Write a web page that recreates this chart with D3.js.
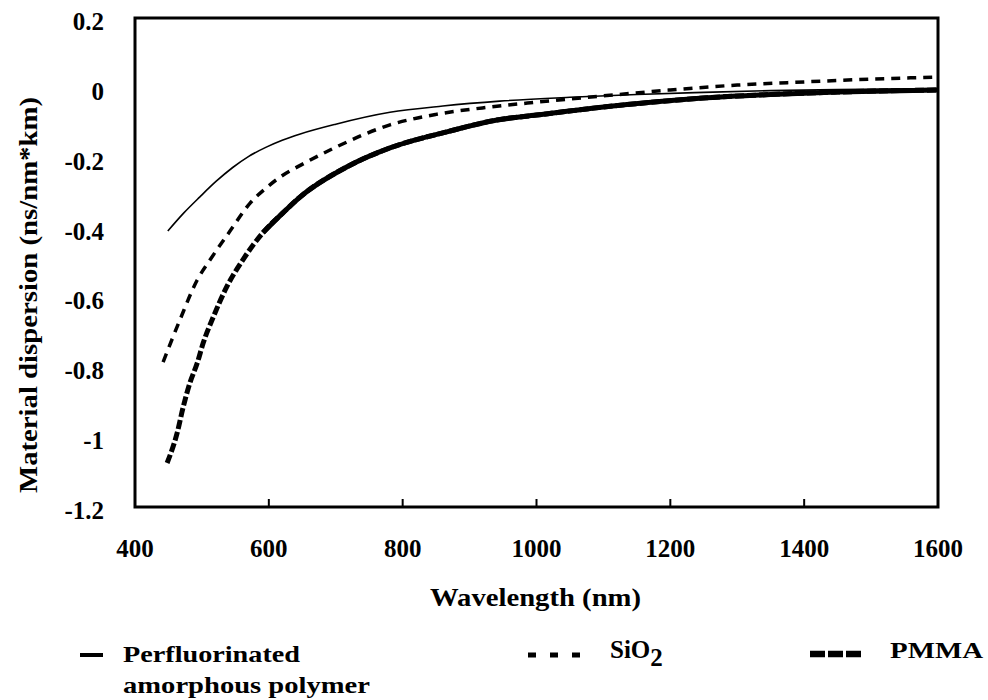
<!DOCTYPE html>
<html>
<head>
<meta charset="utf-8">
<script src="https://cdn.jsdelivr.net/npm/d3@7"></script>
<style>
  body { margin: 0; background: #fff; }
</style>
</head>
<body>
<div id="chart"></div>
<script>
// wavelength (nm) / material dispersion (ns/nm*km)
const perfluoroWl = [449, 473, 497, 521, 546, 570, 597, 620, 647, 700, 781, 860, 945, 1050, 1150, 1250, 1350, 1450, 1600];
const perfluoroD  = [-0.41, -0.358, -0.312, -0.268, -0.228, -0.196, -0.169, -0.15, -0.132, -0.104, -0.07, -0.052, -0.038, -0.027, -0.019, -0.013, -0.008, -0.005, -0.002];

const sio2Wl = [442, 467, 493, 512, 542, 572, 597, 621, 647, 700, 781, 850, 930, 1000, 1100, 1200, 1300, 1400, 1500, 1600];
const sio2D  = [-0.785, -0.665, -0.55, -0.493, -0.41, -0.33, -0.285, -0.25, -0.222, -0.17, -0.106, -0.076, -0.055, -0.041, -0.023, -0.006, 0.008, 0.017, 0.025, 0.031];

const pmmaWl = [448, 463, 472, 482, 493, 502, 517, 537, 561, 591, 621, 647, 717, 781, 866, 941, 1000, 1100, 1244, 1350, 1450, 1600];
const pmmaD  = [-1.074, -0.988, -0.914, -0.845, -0.788, -0.73, -0.656, -0.57, -0.493, -0.415, -0.358, -0.312, -0.226, -0.172, -0.126, -0.092, -0.078, -0.055, -0.03, -0.019, -0.012, -0.006];

const xTicks = [400, 600, 800, 1000, 1200, 1400, 1600];
const yTicks = [0.2, 0, -0.2, -0.4, -0.6, -0.8, -1, -1.2];

const width = 988, height = 700;
const plotL = 135, plotR = 938, plotT = 18, plotB = 507;

const svg = d3.select('#chart').append('svg')
    .attr('width', width)
    .attr('height', height)
    .attr('font-family', '"Liberation Serif", "Times New Roman", "DejaVu Serif", serif')
    .attr('font-weight', 'bold');

const x = d3.scaleLinear().domain([400, 1600]).range([plotL, plotR]);
const y = d3.scaleLinear().domain([-1.2, 0.2]).range([plotB, plotT]);

const zip = (a, b) => a.map((v, i) => [v, b[i]]);
const line = d3.line().x(d => x(d[0])).y(d => y(d[1])).curve(d3.curveMonotoneX);

// curves
svg.append('path')
    .datum(zip(perfluoroWl, perfluoroD))
    .attr('d', line)
    .attr('fill', 'none')
    .attr('stroke', '#000')
    .attr('stroke-width', 1.6);

svg.append('path')
    .datum(zip(sio2Wl, sio2D))
    .attr('d', line)
    .attr('fill', 'none')
    .attr('stroke', '#000')
    .attr('stroke-width', 3.5)
    .attr('stroke-dasharray', '9,7');

const pmma = zip(pmmaWl, pmmaD);
svg.append('path')
    .datum(pmma)
    .attr('d', line)
    .attr('fill', 'none')
    .attr('stroke', '#000')
    .attr('stroke-width', 5)
    .attr('stroke-dasharray', '9,3');
// flat part of PMMA looks solid in the picture
svg.append('path')
    .datum(pmma.filter(d => d[0] >= 591))
    .attr('d', line)
    .attr('fill', 'none')
    .attr('stroke', '#000')
    .attr('stroke-width', 5);

// frame
svg.append('rect')
    .attr('x', plotL).attr('y', plotT)
    .attr('width', plotR - plotL).attr('height', plotB - plotT)
    .attr('fill', 'none')
    .attr('stroke', '#000')
    .attr('stroke-width', 3);

// x ticks (inside, pointing up)
svg.selectAll('.xtick').data(xTicks.slice(1, -1)).enter().append('line')
    .attr('class', 'xtick')
    .attr('x1', d => x(d)).attr('x2', d => x(d))
    .attr('y1', plotB).attr('y2', plotB - 8)
    .attr('stroke', '#000')
    .attr('stroke-width', 2);

svg.selectAll('.xlabel').data(xTicks).enter().append('text')
    .attr('class', 'xlabel')
    .attr('x', d => x(d))
    .attr('y', 557)
    .attr('text-anchor', 'middle')
    .attr('font-size', 25)
    .text(d => d);

svg.selectAll('.ylabel').data(yTicks).enter().append('text')
    .attr('class', 'ylabel')
    .attr('x', 104)
    .attr('y', d => y(d) + 12)
    .attr('text-anchor', 'end')
    .attr('font-size', 25)
    .text(d => d);

// axis titles
svg.append('text')
    .attr('x', 430).attr('y', 606)
    .attr('font-size', 26)
    .attr('textLength', 211)
    .attr('lengthAdjust', 'spacingAndGlyphs')
    .text('Wavelength (nm)');

svg.append('text')
    .attr('transform', 'translate(37,493) rotate(-90)')
    .attr('font-size', 26)
    .attr('textLength', 396)
    .attr('lengthAdjust', 'spacingAndGlyphs')
    .text('Material dispersion (ns/nm*km)');

// legend
svg.append('line')
    .attr('x1', 80).attr('x2', 103).attr('y1', 655).attr('y2', 655)
    .attr('stroke', '#000').attr('stroke-width', 4);
svg.append('text').attr('x', 123).attr('y', 662).attr('font-size', 23)
    .attr('textLength', 177).attr('lengthAdjust', 'spacingAndGlyphs')
    .text('Perfluorinated');
svg.append('text').attr('x', 123).attr('y', 693).attr('font-size', 23)
    .attr('textLength', 247).attr('lengthAdjust', 'spacingAndGlyphs')
    .text('amorphous polymer');

svg.append('line')
    .attr('x1', 528).attr('x2', 581).attr('y1', 655).attr('y2', 655)
    .attr('stroke', '#000').attr('stroke-width', 5)
    .attr('stroke-dasharray', '8,14');
const sio2Label = svg.append('text').attr('x', 610).attr('y', 658).attr('font-size', 25);
sio2Label.append('tspan').text('SiO');
sio2Label.append('tspan').attr('dy', 8).attr('font-size', 25).text('2');

svg.append('line')
    .attr('x1', 810).attr('x2', 862).attr('y1', 654).attr('y2', 654)
    .attr('stroke', '#000').attr('stroke-width', 6.5)
    .attr('stroke-dasharray', '15,3');
svg.append('text').attr('x', 890).attr('y', 658).attr('font-size', 23)
    .attr('textLength', 93).attr('lengthAdjust', 'spacingAndGlyphs')
    .text('PMMA');
</script>
</body>
</html>
